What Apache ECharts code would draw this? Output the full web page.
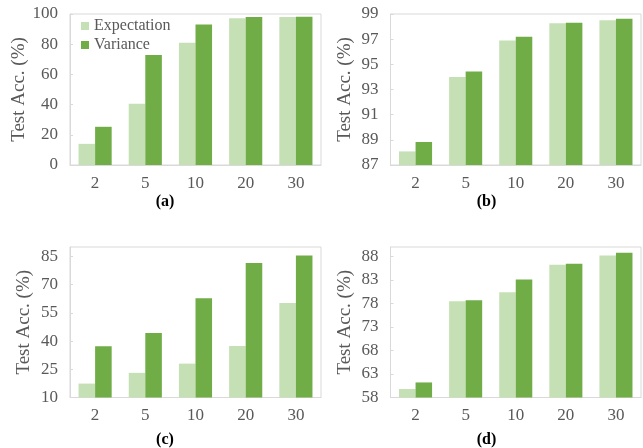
<!DOCTYPE html>
<html>
<head>
<meta charset="utf-8">
<script src="https://cdn.jsdelivr.net/npm/echarts@6/dist/echarts.min.js"></script>
<style>
  html, body { margin: 0; padding: 0; background: #ffffff; }
  #chart { width: 643px; height: 448px; }
</style>
</head>
<body>
<div id="chart"></div>
<script>
// Number of clusters (x axis) shared by all four panels
const categories = ['2', '5', '10', '20', '30'];

// Panel (a)
const aExpectation = [14, 40.5, 81, 97.2, 98];
const aVariance = [25.3, 72.9, 93, 98, 98.2];
// Panel (b)
const bExpectation = [88.08, 94.0, 96.9, 98.26, 98.5];
const bVariance = [88.83, 94.44, 97.2, 98.3, 98.63];
// Panel (c)
const cExpectation = [17.4, 23.1, 28, 37.4, 60.2];
const cVariance = [37.2, 44.3, 62.7, 81.5, 85.5];
// Panel (d)
const dExpectation = [59.8, 78.45, 80.4, 86.2, 88.2];
const dVariance = [61.2, 78.7, 83.1, 86.45, 88.8];

// y-axis ranges: [min, max, interval]
const yRanges = [[0, 100, 20], [87, 99, 2], [10, 90, 15], [58, 90, 5]];
const panelLabels = ['(a)', '(b)', '(c)', '(d)'];

const FONT = '"Liberation Serif", "Times New Roman", serif';
const TEXT = '#595959';
const LINE = '#d9d9d9';
const LIGHT = '#c5e0b4';
const DARK = '#70ad47';

const grids = [
  { left: 70, top: 14, width: 251, height: 151 },
  { left: 390.5, top: 14, width: 250.5, height: 151 },
  { left: 70, top: 247, width: 251, height: 150.5 },
  { left: 390.5, top: 247, width: 250.5, height: 150.5 }
].map(g => Object.assign({ show: true, borderColor: LINE, borderWidth: 1, backgroundColor: 'transparent' }, g));

const xAxes = grids.map((g, i) => ({
  type: 'category',
  gridIndex: i,
  data: categories,
  axisLine: { lineStyle: { color: LINE } },
  axisTick: { alignWithLabel: true, length: 3, lineStyle: { color: LINE } },
  axisLabel: { color: TEXT, fontFamily: FONT, fontSize: 17, margin: 10 }
}));

const yAxes = yRanges.map((r, i) => ({
  type: 'value',
  gridIndex: i,
  min: r[0],
  max: r[1],
  interval: r[2],
  name: 'Test Acc. (%)',
  nameLocation: 'middle',
  nameGap: 36,
  nameTextStyle: { color: TEXT, fontFamily: FONT, fontSize: 19 },
  axisLine: { show: true, lineStyle: { color: LINE } },
  axisTick: { show: true, inside: true, length: 3, lineStyle: { color: LINE } },
  splitLine: { show: false },
  axisLabel: { color: TEXT, fontFamily: FONT, fontSize: 17, margin: 12, showMaxLabel: (i < 2) }
}));

const pairs = [
  [aExpectation, aVariance],
  [bExpectation, bVariance],
  [cExpectation, cVariance],
  [dExpectation, dVariance]
];

const series = [];
pairs.forEach((p, i) => {
  series.push({
    name: 'Expectation', type: 'bar', xAxisIndex: i, yAxisIndex: i,
    data: p[0], barWidth: '33%', barGap: '0%',
    itemStyle: { color: LIGHT }
  });
  series.push({
    name: 'Variance', type: 'bar', xAxisIndex: i, yAxisIndex: i,
    data: p[1], barWidth: '33%', barGap: '0%',
    itemStyle: { color: DARK }
  });
});

const titles = panelLabels.map((t, i) => ({
  text: t,
  left: (i % 2 === 0) ? 160 : 481.5,
  top: i < 2 ? 189 : 427,
  textAlign: 'center',
  textStyle: { fontFamily: FONT, fontSize: 16, fontWeight: 'bold', color: '#000000' }
}));

const chart = echarts.init(document.getElementById('chart'), null, { renderer: 'canvas' });
chart.setOption({
  animation: false,
  backgroundColor: '#ffffff',
  title: titles,
  legend: {
    data: ['Expectation', 'Variance'],
    orient: 'vertical',
    left: 76,
    top: 13,
    icon: 'rect',
    itemWidth: 8,
    itemHeight: 8,
    itemGap: 3,
    textStyle: { color: TEXT, fontFamily: FONT, fontSize: 16 }
  },
  grid: grids,
  xAxis: xAxes,
  yAxis: yAxes,
  series: series
});
</script>
</body>
</html>
